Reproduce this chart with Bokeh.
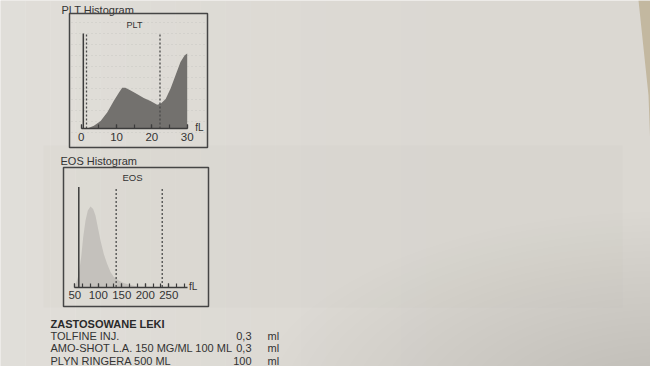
from bokeh.plotting import figure
from bokeh.models import Range1d, LinearAxis, SingleIntervalTicker
from bokeh.core.properties import value
from bokeh.embed import file_html
from bokeh.resources import INLINE

# ---- PLT histogram: cell volume (fL) vs. relative count ----
plt_fl = [1.7, 3.6, 5.5, 7.4, 9.2, 10.7, 11.6, 12.5, 14.0, 15.9, 17.7,
          19.6, 21.5, 22.5, 23.9, 25.3, 26.7, 28.1, 29.3, 30.0]
plt_count = [0, 3, 8, 17, 29, 38, 43, 43, 40, 36, 32,
             29, 25, 26, 31, 42, 56, 70, 77, 79]
plt_solid = [0.6]
plt_dashed = [1.5, 22.3]

# ---- EOS histogram ----
eos_fl = [51.5, 58.5, 63.6, 67.9, 72.8, 77.7, 83.4, 89.0, 94.0, 98.9,
          104.7, 111.7, 118.9, 126.0, 133.0, 143.6, 154.0, 168.5, 182.7, 190.0]
eos_count = [1.5, 13, 30, 50, 66.5, 76.5, 80.5, 78, 71.5, 60,
             46.5, 33, 23, 15, 10, 6.5, 4, 2, 0.5, 0]
eos_solid = [58.5]
eos_dashed = [138, 236]

# ---- administered drugs ----
drug_names = ["TOLFINE INJ.", "AMO-SHOT L.A. 150 MG/ML 100 ML", "PLYN RINGERA 500 ML"]
drug_doses = ["0,3", "0,3", "100"]
drug_units = ["ml", "ml", "ml"]

W, H = 650, 366
PAPER = "#dbd8d2"
INK = "#333333"
FONT = value("Liberation Sans")


def x_range_for(v0, px0, v1, px1):
    k = (px1 - px0) / (v1 - v0)
    return Range1d(start=v0 - px0 / k, end=v0 + (W - px0) / k)


def y_range_for(v0, py0, v1, py1):
    k = (py0 - py1) / (v1 - v0)
    return Range1d(start=v0 - (H - py0) / k, end=v0 + py0 / k)


p = figure(width=W, height=H, output_backend="svg", toolbar_location=None,
           x_range=Range1d(0, W), y_range=Range1d(H, 0),
           x_axis_type=None, y_axis_type=None, min_border=0,
           background_fill_color=PAPER, border_fill_color=PAPER,
           outline_line_color=None)
p.grid.visible = False

# histogram coordinate systems
p.extra_x_ranges = {"plt_x": x_range_for(0, 80.7, 30, 186.7),
                    "eos_x": x_range_for(50, 74.3, 250, 168.3)}
p.extra_y_ranges = {"plt_y": y_range_for(0, 128, 100, 33),
                    "eos_y": y_range_for(0, 286.5, 100, 186.5)}

# soft paper lighting: lighter towards the left, darker towards the lower right
n_strips = 26
for i in range(n_strips):
    x0 = W * i / n_strips
    p.quad(left=x0, right=x0 + W / n_strips + 0.5, top=0, bottom=H,
           fill_color="#ffffff", fill_alpha=0.16 * (1 - i / n_strips) ** 2, line_color=None)
n_rings = 30
for i in range(n_rings):
    r = 520 * (1 - i / n_rings)
    p.ellipse(x=W + 20, y=H + 40, width=1.6 * r, height=0.75 * r,
              fill_color="#8f887a", fill_alpha=0.009, line_color=None)
p.quad(left=43, right=622, top=145, bottom=307, fill_color="#b9b5ae", fill_alpha=0.07, line_color=None)
p.patch(x=[638, W, W, 648], y=[0, 0, 150, 95], fill_color="#c3b8a0", line_color=None)

# ---------------- PLT panel ----------------
p.text(x=[61], y=[9.5], text=["PLT Histogram"], text_font=FONT, text_font_size="11px",
       text_color=INK, text_baseline="alphabetic")
p.quad(left=69, right=207, top=13, bottom=147, fill_color=None, line_color="#454545", line_width=1.5)
for gy in range(22, 142, 11):
    p.segment(x0=71, y0=gy, x1=205, y1=gy, line_color="#8a8a8a", line_alpha=0.3,
              line_width=0.8, line_dash="1 3")
p.text(x=[134], y=[24], text=["PLT"], text_font=FONT, text_font_size="9px",
       text_color=INK, text_align="center", text_baseline="middle")

p.varea(x=plt_fl, y1=[0] * len(plt_fl), y2=plt_count, fill_color="#73716e",
        x_range_name="plt_x", y_range_name="plt_y")
p.segment(x0=plt_solid, y0=[0] * len(plt_solid), x1=plt_solid, y1=[100] * len(plt_solid),
          line_color="#3c3c3c", line_width=1.5, x_range_name="plt_x", y_range_name="plt_y")
p.segment(x0=plt_dashed, y0=[0] * len(plt_dashed), x1=plt_dashed, y1=[100] * len(plt_dashed),
          line_color="#4a4a4a", line_width=1.3, line_dash="2 2",
          x_range_name="plt_x", y_range_name="plt_y")
p.text(x=[32.3], y=[1.5], text=["fL"], text_font=FONT, text_font_size="10px",
       text_color=INK, text_baseline="alphabetic", x_range_name="plt_x", y_range_name="plt_y")

plt_axis = LinearAxis(x_range_name="plt_x", y_range_name="plt_y", fixed_location=0,
                      bounds=(0, 30), ticker=SingleIntervalTicker(interval=10, num_minor_ticks=2))

# ---------------- EOS panel ----------------
p.text(x=[60], y=[160.5], text=["EOS Histogram"], text_font=FONT, text_font_size="11px",
       text_color=INK, text_baseline="alphabetic")
p.quad(left=63, right=208, top=167, bottom=306, fill_color=None, line_color="#454545", line_width=1.5)
p.text(x=[132], y=[177], text=["EOS"], text_font=FONT, text_font_size="9.5px",
       text_color=INK, text_align="center", text_baseline="middle")

p.varea(x=eos_fl, y1=[0] * len(eos_fl), y2=eos_count, fill_color="#c4c1bc",
        x_range_name="eos_x", y_range_name="eos_y")
p.segment(x0=eos_solid, y0=[0] * len(eos_solid), x1=eos_solid, y1=[100] * len(eos_solid),
          line_color="#3c3c3c", line_width=1.5, x_range_name="eos_x", y_range_name="eos_y")
p.segment(x0=eos_dashed, y0=[0] * len(eos_dashed), x1=eos_dashed, y1=[100] * len(eos_dashed),
          line_color="#4a4a4a", line_width=1.3, line_dash="2 2",
          x_range_name="eos_x", y_range_name="eos_y")
p.text(x=[293], y=[0.5], text=["fL"], text_font=FONT, text_font_size="10px",
       text_color=INK, text_baseline="alphabetic", x_range_name="eos_x", y_range_name="eos_y")

eos_axis = LinearAxis(x_range_name="eos_x", y_range_name="eos_y", fixed_location=0,
                      bounds=(50, 290), ticker=SingleIntervalTicker(interval=50, num_minor_ticks=3))

for ax in (plt_axis, eos_axis):
    ax.axis_line_color = "#3c3c3c"
    ax.axis_line_width = 1.5
    ax.major_tick_line_color = "#3c3c3c"
    ax.minor_tick_line_color = "#3c3c3c"
    ax.major_tick_line_width = 1.2
    ax.minor_tick_line_width = 1.2
    ax.major_tick_in = 4
    ax.major_tick_out = 0
    ax.minor_tick_in = 4
    ax.minor_tick_out = 0
    ax.major_label_standoff = 4
    ax.major_label_text_font = "Liberation Sans"
    ax.major_label_text_font_size = "11.5px"
    ax.major_label_text_color = INK
    p.add_layout(ax, "below")

# ---------------- drugs table ----------------
p.text(x=[50], y=[323], text=["ZASTOSOWANE LEKI"], text_font=FONT, text_font_size="11px",
       text_font_style="bold", text_color="#2a2a2a", text_baseline="alphabetic")
row_y = [335.5 + 12.3 * i for i in range(len(drug_names))]
p.text(x=[50] * len(drug_names), y=row_y, text=drug_names, text_font=FONT,
       text_font_size="11px", text_color=INK, text_baseline="alphabetic")
p.text(x=[251] * len(drug_doses), y=row_y, text=drug_doses, text_font=FONT,
       text_font_size="11px", text_color=INK, text_align="right", text_baseline="alphabetic")
p.text(x=[267] * len(drug_units), y=row_y, text=drug_units, text_font=FONT,
       text_font_size="11px", text_color=INK, text_baseline="alphabetic")

open("out.html", "w").write(file_html(p, INLINE))
